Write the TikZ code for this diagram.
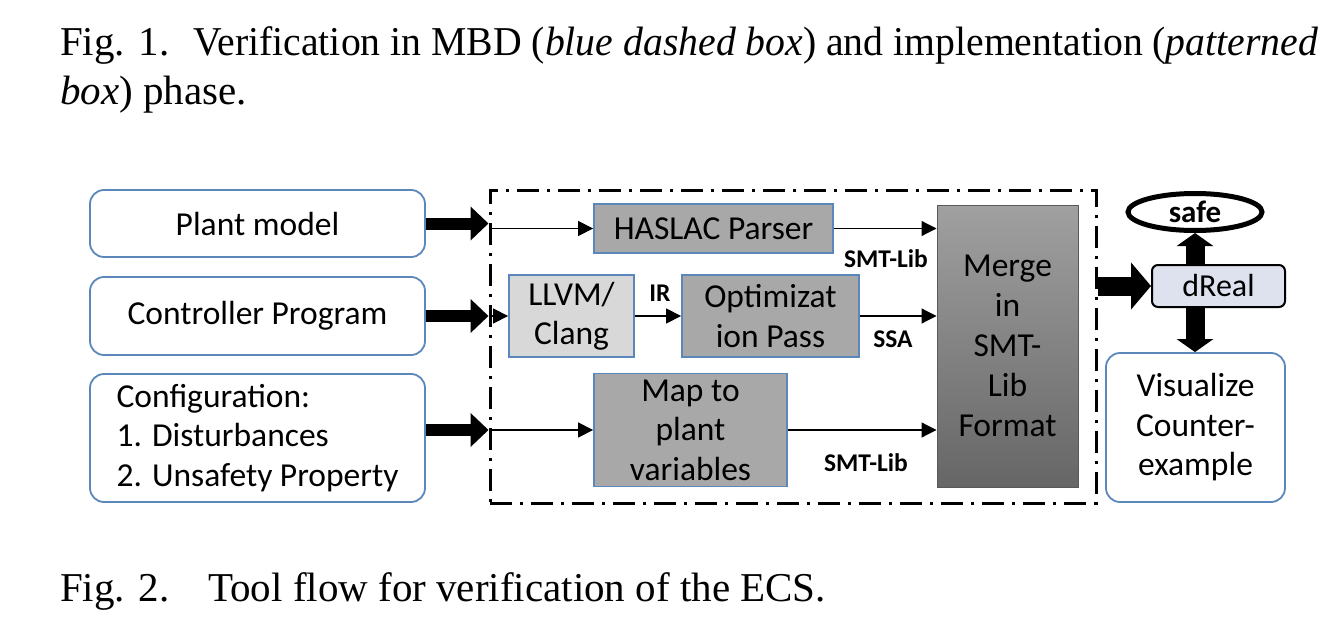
\documentclass[tikz,border=0pt]{standalone}
\usepackage{fontspec}
\usepackage{graphicx}
\setmainfont{Liberation Serif}
\newfontfamily\boxfont{Carlito}
\usetikzlibrary{arrows.meta,shapes.geometric}
\definecolor{boxblue}{HTML}{5B87BA}
\definecolor{procgray}{HTML}{A8A8A8}
\definecolor{llvmgray}{HTML}{D8D8D8}
\definecolor{drealfill}{HTML}{DDE2EE}
\definecolor{mergetop}{HTML}{A0A0A0}
\definecolor{mergebot}{HTML}{666666}
\begin{document}
\begin{tikzpicture}[x=1pt,y=-1pt,
  inbox/.style={draw=boxblue, line width=1.8pt, rounded corners=14pt, fill=white, font=\boxfont\fontsize{33.5}{39.5}\selectfont, align=center, inner sep=0pt},
  proc/.style={draw=boxblue, line width=1.8pt, fill=procgray, font=\boxfont\fontsize{33.5}{39.5}\selectfont, align=center, inner sep=0pt},
  mbdframe/.style={draw=black, line width=3pt, dash pattern=on 22pt off 8pt on 3pt off 8pt, inner sep=0pt},
  fatarr/.style={line width=12pt, -{Triangle[length=18pt,width=33pt]}},
  bigarr/.style={line width=19pt, -{Triangle[length=20pt,width=46pt]}},
  vertarr/.style={line width=19pt, -{Triangle[length=13pt,width=36pt]}},
  thinarr/.style={line width=1.2pt, -{Triangle[length=15pt,width=15pt]}},
  lab/.style={font=\boxfont\bfseries\fontsize{25.5}{28}\selectfont, inner sep=0pt},
  captext/.style={font=\fontsize{41}{50}\selectfont, inner sep=0pt, anchor=base west},
]
\useasboundingbox (0,0) rectangle (1320,634);

% captions
\node[captext] (c1a) at (60,56) {Fig. 1.};
\node[captext] (c1b) at (193,56) {\resizebox{1125pt}{\height}{Verification in MBD (\textit{blue dashed box}) and implementation (\textit{patterned}}};
\node[captext] (c1c) at (60,104) {\textit{box}) phase.};
\node[captext] (c2a) at (60,601) {Fig. 2.};
\node[captext] (c2b) at (208,601) {Tool flow for verification of the ECS.};

% inputs
\node[inbox, minimum width=335pt, minimum height=67pt] (plant) at (257.5,223.5) {Plant model};
\node[inbox, minimum width=335pt, minimum height=78pt] (ctrl) at (257.5,316) {Controller Program};
\node[inbox, minimum width=335pt, minimum height=128pt, align=left] (conf) at (257.5,438) {Configuration:\\1. Disturbances\\2. Unsafety Property};

% frame
\node[mbdframe, minimum width=606pt, minimum height=313pt] (mbd) at (793,346.5) {};

% processing
\node[proc, minimum width=239pt, minimum height=49pt] (haslac) at (713.5,228.5) {HASLAC Parser};
\node[proc, fill=llvmgray, minimum width=125pt, minimum height=82pt] (llvm) at (571.5,316) {LLVM/\\Clang};
\node[proc, minimum width=177pt, minimum height=82pt] (opt) at (770.5,316) {Optimizat\\ion Pass};
\node[proc, minimum width=193pt, minimum height=113pt] (map) at (690.5,430) {Map to\\plant\\variables};
\node[draw=gray!70!black, line width=1pt, top color=mergetop, bottom color=mergebot, minimum width=141pt, minimum height=282pt, font=\boxfont\fontsize{33.5}{40}\selectfont, align=center, inner sep=0pt] (merge) at (1007.5,346) {Merge\\in\\SMT-\\Lib\\Format};

% right side
\node[draw=black, line width=5pt, ellipse, minimum width=134pt, minimum height=37pt, inner sep=0pt, font=\boxfont\bfseries\fontsize{31}{34}\selectfont] (safe) at (1195,212) {safe};
\node[draw=black, line width=2pt, rounded corners=6pt, fill=drealfill, minimum width=133pt, minimum height=42pt, inner sep=0pt, font=\boxfont\fontsize{32}{36}\selectfont] (dreal) at (1218.5,286) {dReal};
\node[inbox, minimum width=179pt, minimum height=149pt] (vis) at (1195.5,427.5) {Visualize\\Counter-\\example};

% thick input arrows
\draw[fatarr] (plant.east) -- (mbd.west |- plant.east);
\draw[fatarr] (ctrl.east) -- (mbd.west |- ctrl.east);
\draw[fatarr] (conf.east |- map.west) -- (mbd.west |- map.west);

% thin arrows
\draw[thinarr] (mbd.west |- haslac.west) -- (haslac.west);
\draw[thinarr] (haslac.east) -- (merge.west |- haslac.east);
\draw[thinarr] (mbd.west |- llvm.west) -- (llvm.west);
\draw[thinarr] (llvm.east) -- (opt.west);
\draw[thinarr] (opt.east) -- (merge.west |- opt.east);
\draw[thinarr] (mbd.west |- map.west) -- (map.west);
\draw[thinarr] (map.east) -- (merge.west |- map.east);

\node[lab] (l1) at (886,259) {SMT-Lib};
\node[lab] (l2) at (660,293) {IR};
\node[lab] (l3) at (893,339) {SSA};
\node[lab] (l4) at (866,463) {SMT-Lib};

% output arrows
\draw[bigarr] (mbd.east |- dreal.west) -- (dreal.west);
\draw[vertarr] (safe.south |- dreal.north) -- (safe.south);
\draw[vertarr] (safe.south |- dreal.south) -- (safe.south |- vis.north);
\end{tikzpicture}
\end{document}
